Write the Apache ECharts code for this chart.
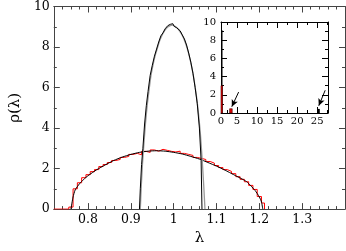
<!DOCTYPE html>
<html><head><meta charset="utf-8">
<script src="https://cdn.jsdelivr.net/npm/echarts@6/dist/echarts.min.js"></script>
<style>html,body{margin:0;padding:0;background:#fff}#c{width:346px;height:251px}</style>
</head><body><div id="c"></div>
<script>
// ---- data ----
const histEdges = [0.72,0.755,0.765,0.775,0.785,0.795,0.805,0.815,0.825,0.835,0.845,0.855,0.865,0.875,0.885,0.895,0.905,0.915,0.925,0.935,0.945,0.955,0.965,0.975,0.985,0.995,1.005,1.015,1.025,1.035,1.045,1.055,1.065,1.075,1.085,1.095,1.105,1.115,1.125,1.135,1.145,1.155,1.165,1.175,1.185,1.195,1.205,1.212];
const histValues = [0,0.1,1.0,1.3,1.55,1.7,1.85,1.95,2.1,2.2,2.3,2.4,2.45,2.55,2.6,2.7,2.75,2.68,2.85,2.8,2.92,2.86,2.95,2.9,2.85,2.82,2.86,2.75,2.7,2.65,2.55,2.5,2.45,2.35,2.27,2.15,2.05,1.95,1.86,1.75,1.6,1.47,1.35,1.17,0.97,0.62,0.3,0];
const mpX = [0.76,0.765,0.77,0.78,0.79,0.80,0.82,0.84,0.86,0.88,0.90,0.92,0.94,0.96,0.98,1.00,1.02,1.04,1.06,1.08,1.10,1.12,1.14,1.16,1.17,1.18,1.19,1.20,1.205,1.208];
const mpY = [0,0.6,0.95,1.25,1.47,1.65,1.94,2.18,2.4,2.57,2.7,2.8,2.86,2.88,2.86,2.8,2.72,2.6,2.47,2.3,2.12,1.92,1.7,1.48,1.36,1.15,0.92,0.6,0.35,0];
const narrowGreyX = [0.922,0.924,0.927,0.93,0.934,0.938,0.942,0.947,0.952,0.957,0.962,0.967,0.972,0.977,0.982,0.987,0.992,0.997,1.002,1.007,1.012,1.017,1.022,1.027,1.032,1.037,1.042,1.047,1.052,1.057,1.062,1.066,1.07,1.073];
const narrowGreyY = [0,1.0,2.2,3.1,4.2,5.1,5.8,6.6,7.15,7.6,7.95,8.3,8.55,8.75,8.9,9.0,9.06,9.08,9.04,8.96,8.84,8.68,8.48,8.22,7.9,7.5,7.02,6.45,5.75,4.9,3.8,2.6,1.2,0];
const narrowBlackX = [0.92,0.922,0.925,0.928,0.932,0.936,0.94,0.945,0.95,0.955,0.96,0.965,0.97,0.975,0.98,0.983,0.986,0.989,0.992,0.995,0.998,1.001,1.004,1.007,1.01,1.015,1.02,1.025,1.03,1.035,1.04,1.045,1.05,1.055,1.06,1.064,1.066];
const narrowBlackY = [0,1.0,2.2,3.0,4.2,5.1,5.8,6.6,7.1,7.55,7.9,8.25,8.55,8.7,8.9,8.95,9.05,8.98,9.12,9.05,9.15,9.02,9.0,8.95,8.9,8.8,8.6,8.4,8.1,7.7,7.25,6.7,6.0,5.2,4.0,2.4,0];
const mainXTicks = [0.8,0.9,1.0,1.1,1.2,1.3];
const insetXTicks = [5,10,15,20,25];
// inset bars: [left, right, height]
const insetBlackBars = [[0.92,1.07,9.1],[25.0,25.65,0.45]];
const insetRedBars = [[0.76,1.21,3.0],[3.15,3.8,0.47]];
const arrowFrom = [[5.4,2.3],[27.0,2.5]];
const arrowTo = [[3.7,0.7],[25.4,0.8]];

// ---- helpers ----
const zip = (a,b)=>a.map((v,i)=>[v,b[i]]);
const mainMinor = [];
for (let k=37;k<=69;k++){ const v=k*0.02; if (Math.abs(v*10-Math.round(v*10))>1e-6) mainMinor.push(+v.toFixed(2)); }
const insetMinor = [2.5,7.5,12.5,17.5,22.5,27.5];
const font = 'DejaVu Serif';
const frame = '#444';

function xAx(grid, pos, min, max, major, minor, withLabel, color, fs, fmt){
  const base = {type:'value', gridIndex:grid, position:pos, min, max, splitLine:{show:false}};
  return [
    Object.assign({}, base, {
      axisLine:{show:true, onZero:false, lineStyle:{color, width:1}},
      axisTick:{show:true, inside:true, length:6, customValues:major, lineStyle:{color}},
      axisLabel:{show:withLabel, customValues:major, margin:4, fontFamily:font, fontSize:fs, color:'#000', formatter:fmt}
    }),
    Object.assign({}, base, {
      axisLine:{show:false, onZero:false},
      axisTick:{show:true, inside:true, length:3, customValues:minor, lineStyle:{color}},
      axisLabel:{show:false}
    })
  ];
}
function yAx(grid, pos, withLabel, color, fs){
  return {type:'value', gridIndex:grid, position:pos, min:0, max:10, interval:2,
    splitLine:{show:false},
    axisLine:{show:true, onZero:false, lineStyle:{color}},
    axisTick:{show:true, inside:true, length:6, lineStyle:{color}},
    minorTick:{show:true, splitNumber:2, length:3, lineStyle:{color}},
    axisLabel:{show:withLabel, margin:4, fontFamily:font, fontSize:fs, color:'#000'}};
}

const xAxes = [].concat(
  xAx(0,'bottom',0.72,1.4,mainXTicks,mainMinor,true,frame,12.5,v=>String(+v.toFixed(1))),
  xAx(0,'top',0.72,1.4,mainXTicks,mainMinor,false,frame,12.5),
  xAx(1,'bottom',1,27.7,[1].concat(insetXTicks),insetMinor,true,'#000',10,v=>v===1?'0':String(v)),
  xAx(1,'top',1,27.7,insetXTicks,insetMinor,false,'#000',10)
);
xAxes[0].name='λ'; xAxes[0].nameLocation='middle'; xAxes[0].nameGap=21;
xAxes[0].nameTextStyle={fontFamily:font,fontSize:15,color:'#000'};
xAxes[4].axisTick.customValues = insetXTicks;
xAxes[4].axisLabel.margin = 3;

const yAxes = [yAx(0,'left',true,frame,12.5), yAx(0,'right',false,frame,12.5), yAx(1,'left',true,'#000',10), yAx(1,'right',false,'#000',10)];
yAxes[0].name='ρ(λ)'; yAxes[0].nameLocation='middle'; yAxes[0].nameGap=20;
yAxes[0].nameTextStyle={fontFamily:font,fontSize:15,color:'#000'};
yAxes[2].axisLabel.margin = 5;

function barItem(fill, stroke){
  return function(params, api){
    const p0 = api.coord([api.value(0), api.value(2)]);
    const p1 = api.coord([api.value(1), 0]);
    let x0 = p0[0], w = Math.max(p1[0]-p0[0], 1.5);
    const cs = params.coordSys;
    if (x0 < cs.x) { w = Math.max(w - (cs.x - x0), 1.5); x0 = cs.x; }
    return {type:'rect', shape:{x:x0, y:p0[1], width:w, height:p1[1]-p0[1]},
      style:{fill, stroke, lineWidth:stroke?0.6:0}};
  };
}

const chart = echarts.init(document.getElementById('c'), null, {renderer:'canvas'});
chart.setOption({
  animation:false,
  backgroundColor:'#fff',
  textStyle:{fontFamily:font},
  grid:[{left:37, top:6, width:308, height:216}, {left:221, top:22, width:107, height:91}],
  xAxis: xAxes,
  yAxis: yAxes,
  series:[
    {type:'line', xAxisIndex:0, yAxisIndex:0, data:zip(histEdges,histValues), step:'end', showSymbol:false, lineStyle:{color:'#ff0000', width:1}, z:2},
    {type:'line', xAxisIndex:0, yAxisIndex:0, data:zip(mpX,mpY), smooth:0.2, showSymbol:false, lineStyle:{color:'#000', width:1}, z:3},
    {type:'line', xAxisIndex:0, yAxisIndex:0, data:zip(narrowGreyX,narrowGreyY), smooth:0.2, showSymbol:false, lineStyle:{color:'#999', width:1.3}, z:4},
    {type:'line', xAxisIndex:0, yAxisIndex:0, data:zip(narrowBlackX,narrowBlackY), showSymbol:false, lineStyle:{color:'#000', width:1}, z:5},
    {type:'custom', xAxisIndex:4, yAxisIndex:2, data:insetBlackBars, renderItem:barItem('#000', null), z:2},
    {type:'custom', xAxisIndex:4, yAxisIndex:2, data:insetRedBars, renderItem:barItem('#e00000', '#400'), z:3},
    {type:'line', xAxisIndex:4, yAxisIndex:2, data:[], z:4,
      markLine:{silent:true, symbol:['none','arrow'], symbolSize:[5,7], label:{show:false},
        lineStyle:{color:'#000', width:1, type:'solid'},
        data: arrowFrom.map((p,i)=>[{coord:p},{coord:arrowTo[i]}])}
    }
  ]
});
</script></body></html>
